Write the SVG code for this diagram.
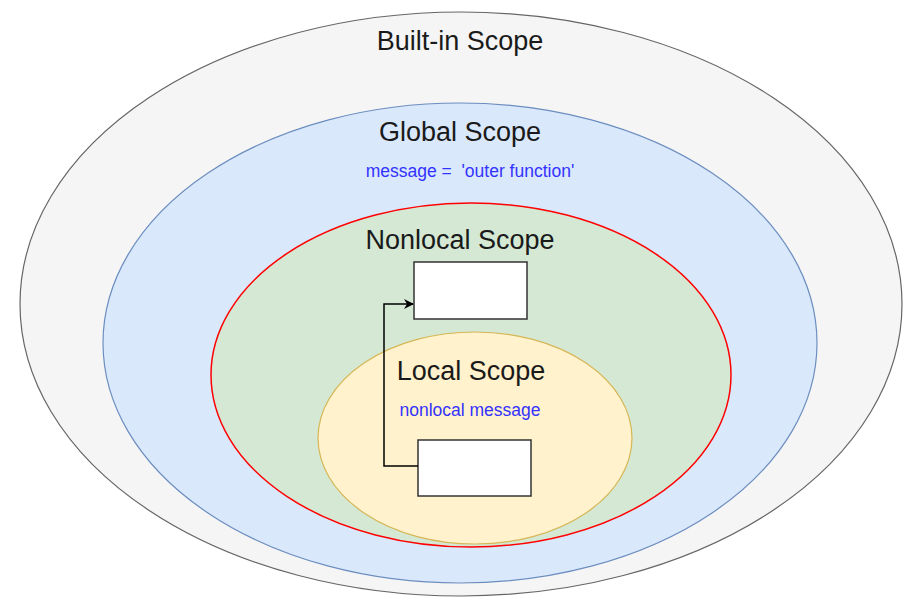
<svg xmlns="http://www.w3.org/2000/svg" width="918" height="614" viewBox="0 0 918 614">
<defs>
<style>
.t{font-family:"Liberation Sans",Arial,sans-serif;fill:#1a1a1a;text-anchor:middle}
.big{font-size:27px}
.mid{font-size:27px}
.code{font-family:"Liberation Sans",Arial,sans-serif;font-size:17.5px;fill:#3333ff;text-anchor:middle}
.box{fill:#ffffff;stroke:#333333;stroke-width:1.5}
</style>
<marker id="arr" viewBox="0 0 10 10" refX="9" refY="5" markerWidth="10" markerHeight="10" markerUnits="userSpaceOnUse" orient="auto">
<path d="M0,0 L10,5 L0,10 L3,5 Z" fill="#000"/>
</marker>
</defs>
<rect width="918" height="614" fill="#ffffff"/>
<g id="builtin">
<ellipse cx="461" cy="304" rx="441" ry="292" fill="#f5f5f5" stroke="#666666" stroke-width="1.2"/>
<text class="t big" x="460" y="50">Built-in Scope</text>
</g>
<g id="global">
<ellipse cx="460" cy="343" rx="357" ry="240" fill="#dae8fc" stroke="#6c8ebf" stroke-width="1.2"/>
<text class="t mid" x="460" y="141">Global Scope</text>
<text class="code" x="470" y="177" xml:space="preserve">message =  'outer function'</text>
</g>
<g id="nonlocal">
<ellipse cx="471" cy="375" rx="260" ry="172" fill="#d5e8d4" stroke="#ff0000" stroke-width="1.5"/>
<text class="t mid" x="460" y="249">Nonlocal Scope</text>
</g>
<g id="local">
<ellipse cx="475" cy="438" rx="157" ry="106" fill="#fff2cc" stroke="#d6b656" stroke-width="1.2"/>
<text class="t mid" x="471" y="380">Local Scope</text>
<text class="code" x="470" y="416">nonlocal message</text>
</g>
<g id="box-outer">
<rect class="box" x="414" y="262" width="113" height="57"/>
</g>
<g id="box-inner">
<rect class="box" x="418" y="440" width="113" height="56"/>
</g>
<g id="connectors">
<path d="M418,466 L384,466 L384,304 L413,304" fill="none" stroke="#000000" stroke-width="1.5" marker-end="url(#arr)"/>
</g>
</svg>
